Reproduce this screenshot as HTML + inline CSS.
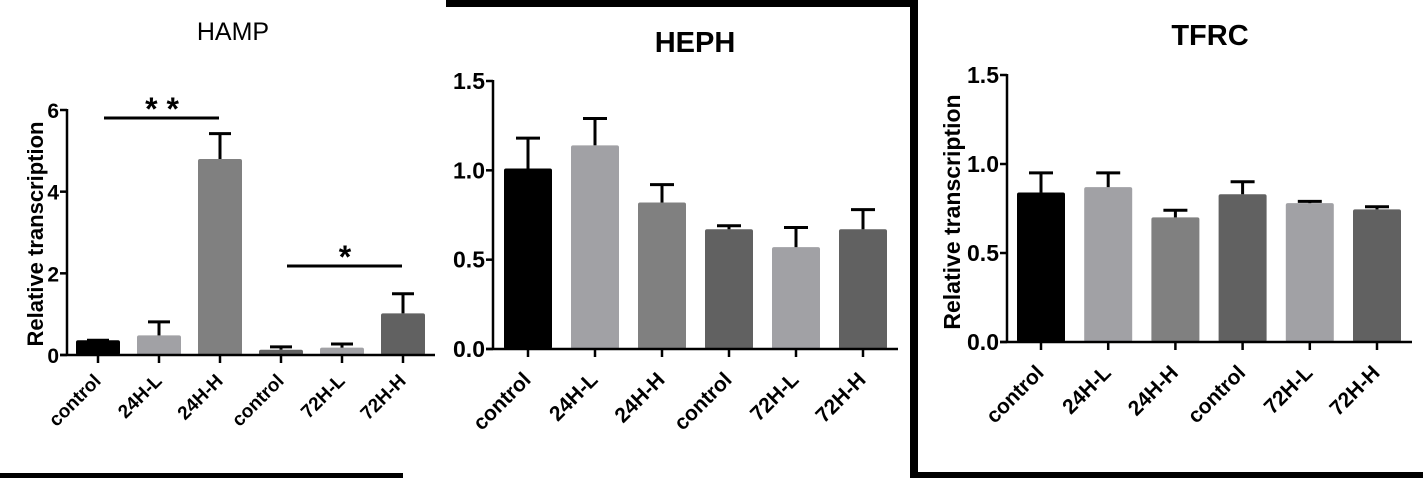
<!DOCTYPE html>
<html><head><meta charset="utf-8"><style>
html,body{margin:0;padding:0;background:#fff;}
svg{display:block;font-family:"Liberation Sans",Arial,sans-serif;}
</style></head><body>
<svg id="s" width="1423" height="478" viewBox="0 0 1423 478">
<rect x="0" y="473" width="403" height="5" fill="#000"/>
<rect x="446" y="0" width="472" height="7" fill="#000"/>
<rect x="910" y="0" width="8" height="478" fill="#000"/>
<rect x="910" y="472" width="513" height="6" fill="#000"/>
</svg>
<script>
const categories = ["control","24H-L","24H-H","control","72H-L","72H-H"];
const barColors = ["#000000","#a1a1a5","#808080","#616161","#a1a1a5","#616161"];
const hampValues = [0.36,0.48,4.8,0.13,0.18,1.02];
const hampErrors = [0.36,0.81,5.42,0.2,0.27,1.5];
const hampTicks = [0,2,4,6];
const hephValues = [1.01,1.14,0.82,0.67,0.57,0.67];
const hephErrors = [1.18,1.29,0.92,0.69,0.68,0.78];
const hephTicks = ["0.0","0.5","1.0","1.5"];
const tfrcValues = [0.84,0.87,0.70,0.83,0.78,0.745];
const tfrcErrors = [0.95,0.95,0.74,0.90,0.79,0.76];
const tfrcTicks = ["0.0","0.5","1.0","1.5"];

const svg = document.getElementById('s');
const NS = 'http://www.w3.org/2000/svg';
function mk(tag, attrs, parent){
  const e = document.createElementNS(NS, tag);
  for (const k in attrs) e.setAttribute(k, attrs[k]);
  (parent||svg).appendChild(e);
  return e;
}
function panel(o){
  const g = mk('g', {});
  
  
  const y = v => o.y0 - (v - 0) / o.max * (o.y0 - o.yTop);
  const x = i => o.xFirst + i * o.step;
  const t = mk('text', {x:o.titleX, y:o.titleY, 'text-anchor':'middle', 'font-size':o.titleSize, 'font-weight':o.titleBold?'bold':'normal', fill:'#000'}, g);
  t.textContent = o.title;
  
  
  if (o.yTitleX){
    const yt = mk('text', {x:0, y:0, transform:`translate(${o.yTitleX},${o.yTitleY}) rotate(-90)`, 'text-anchor':'middle', 'font-size':o.ytfs, 'font-weight':'bold'}, g);
    yt.textContent = 'Relative transcription';
    
    
  }
  o.values.forEach((v, i) => {
    const cx = x(i);
    const r = mk('rect', {x:cx - o.bw/2, y:y(v), width:o.bw, height:o.y0 - y(v), fill:barColors[i], rx:2}, g);
    
    
    const ey = y(o.errors[i]);
    if (o.errors[i] > v + 0.001){
      const st = mk('line', {x1:cx, x2:cx, y1:y(v), y2:ey, stroke:'#000', 'stroke-width':3}, g);
      
      
    }
    const cap = mk('line', {x1:cx - o.cap/2, x2:cx + o.cap/2, y1:ey, y2:ey, stroke:'#000', 'stroke-width':3}, g);
    
    
    const tk = mk('line', {x1:cx, x2:cx, y1:o.y0, y2:o.y0 + 8, stroke:'#000', 'stroke-width':2.5}, g);
    
    
    const lb = mk('text', {x:0, y:0, transform:`translate(${cx + o.lx},${o.y0 + o.ly}) rotate(-45)`, 'text-anchor':'end', 'font-size':o.xfs, 'font-weight':'bold'}, g);
    lb.textContent = categories[i];
    
    
  });
  const ya = mk('line', {x1:o.xAxis, x2:o.xAxis, y1:o.yTop - 1, y2:o.y0 + 1, stroke:'#000', 'stroke-width':2.5}, g);
  
  
  const xa = mk('line', {x1:o.xAxis - 7, x2:o.xEnd, y1:o.y0, y2:o.y0, stroke:'#000', 'stroke-width':2.5}, g);
  
  
  o.ticks.forEach(tv => {
    const yy = y(parseFloat(tv));
    const tk = mk('line', {x1:o.xAxis - 7, x2:o.xAxis, y1:yy, y2:yy, stroke:'#000', 'stroke-width':2.5}, g);
    
    
    const tl = mk('text', {x:o.xAxis - 8, y:yy + 8, 'text-anchor':'end', 'font-size':o.yfs, 'font-weight':'bold'}, g);
    tl.textContent = tv;
    
    
  });
  return {g, x, y};
}
const p1 = panel({name:'hamp', title:'HAMP', titleX:233, titleY:40, titleSize:25, titleBold:false,
  yTitleX:43, yTitleY:234, ytfs:22, values:hampValues, errors:hampErrors, ticks:hampTicks, max:6,
  y0:355, yTop:110, xAxis:67, xEnd:435, xFirst:98, step:61, bw:44, cap:22, xfs:19, yfs:21, lx:4, ly:27});
[[0,2,118,'* *'],[3,5,266,'*']].forEach(s => {
  const l = mk('line', {x1:p1.x(s[0]) + 6, x2:p1.x(s[1]) - 1, y1:s[2], y2:s[2], stroke:'#000', 'stroke-width':3}, p1.g);
  
  
  const t = mk('text', {x:(p1.x(s[0]) + p1.x(s[1])) / 2 + 3, y:s[2] + 2, 'text-anchor':'middle', 'font-size':32, 'font-weight':'bold'}, p1.g);
  t.textContent = s[3];
  
  
});
panel({name:'heph', title:'HEPH', titleX:695, titleY:52, titleSize:29, titleBold:true,
  yTitleX:null, values:hephValues, errors:hephErrors, ticks:hephTicks, max:1.5,
  y0:349, yTop:81, xAxis:493, xEnd:898, xFirst:528, step:67, bw:48, cap:24, xfs:21, yfs:23, lx:4, ly:32});
panel({name:'tfrc', title:'TFRC', titleX:1210, titleY:45, titleSize:29, titleBold:true,
  yTitleX:960, yTitleY:212, ytfs:23, values:tfrcValues, errors:tfrcErrors, ticks:tfrcTicks, max:1.5,
  y0:342, yTop:75, xAxis:1007, xEnd:1412, xFirst:1041, step:67.2, bw:48, cap:24, xfs:21, yfs:23, lx:4, ly:32});
</script>
</body></html>
